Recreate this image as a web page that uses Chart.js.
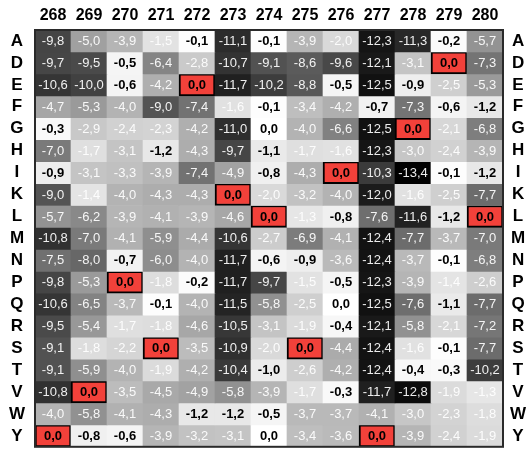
<!DOCTYPE html>
<html>
<head>
<meta charset="utf-8">
<script src="https://cdn.jsdelivr.net/npm/chart.js@4/dist/chart.umd.min.js"></script>
<style>
  html, body { margin: 0; padding: 0; background: #ffffff; }
  canvas { display: block; }
</style>
</head>
<body>
<canvas id="heat" width="532" height="467"></canvas>
<script>
// Sequence positions (columns) and substituted residues (rows)
const positions = ['268', '269', '270', '271', '272', '273', '274', '275', '276', '277', '278', '279', '280'];
const residues = ['A', 'D', 'E', 'F', 'G', 'H', 'I', 'K', 'L', 'M', 'N', 'P', 'Q', 'R', 'S', 'T', 'V', 'W', 'Y'];
// Native residue at each position (highlighted in red)
const nativeResidue = ['Y', 'V', 'P', 'S', 'E', 'K', 'L', 'S', 'I', 'Y', 'G', 'D', 'L'];

// Score for each residue (row) at each position (column)
const scoreA = [-9.8, -5.0, -3.9, -1.5, -0.1, -11.1, -0.1, -3.9, -2.0, -12.3, -11.3, -0.2, -5.7];
const scoreD = [-9.7, -9.5, -0.5, -6.4, -2.8, -10.7, -9.1, -8.6, -9.6, -12.1, -3.1, 0.0, -7.3];
const scoreE = [-10.6, -10.0, -0.6, -4.2, 0.0, -11.7, -10.2, -8.8, -0.5, -12.5, -0.9, -2.5, -5.3];
const scoreF = [-4.7, -5.3, -4.0, -9.0, -7.4, -1.6, -0.1, -3.4, -4.2, -0.7, -7.3, -0.6, -1.2];
const scoreG = [-0.3, -2.9, -2.4, -2.3, -4.2, -11.0, 0.0, -4.0, -6.6, -12.5, 0.0, -2.1, -6.8];
const scoreH = [-7.0, -1.7, -3.1, -1.2, -4.3, -9.7, -1.1, -1.7, -1.6, -12.3, -3.0, -2.4, -3.9];
const scoreI = [-0.9, -3.1, -3.3, -3.9, -7.4, -4.9, -0.8, -4.3, 0.0, -10.3, -13.4, -0.1, -1.2];
const scoreK = [-9.0, -1.4, -4.0, -4.3, -4.3, 0.0, -2.0, -3.2, -4.0, -12.0, -1.6, -2.5, -7.7];
const scoreL = [-5.7, -6.2, -3.9, -4.1, -3.9, -4.6, 0.0, -1.3, -0.8, -7.6, -11.6, -1.2, 0.0];
const scoreM = [-10.8, -7.0, -4.1, -5.9, -4.4, -10.6, -2.7, -6.9, -4.1, -12.4, -7.7, -3.7, -7.0];
const scoreN = [-7.5, -8.0, -0.7, -6.0, -4.0, -11.7, -0.6, -0.9, -3.6, -12.4, -3.7, -0.1, -6.8];
const scoreP = [-9.8, -5.3, 0.0, -1.8, -0.2, -11.7, -9.7, -1.5, -0.5, -12.3, -3.9, -1.4, -2.6];
const scoreQ = [-10.6, -6.5, -3.7, -0.1, -4.0, -11.5, -5.8, -2.5, 0.0, -12.5, -7.6, -1.1, -7.7];
const scoreR = [-9.5, -5.4, -1.7, -1.8, -4.6, -10.5, -3.1, -1.9, -0.4, -12.1, -5.8, -2.1, -7.2];
const scoreS = [-9.1, -1.8, -2.2, 0.0, -3.5, -10.9, -2.0, 0.0, -4.4, -12.4, -1.6, -0.1, -7.7];
const scoreT = [-9.1, -5.9, -4.0, -1.9, -4.2, -10.4, -1.0, -2.6, -4.2, -12.4, -0.4, -0.3, -10.2];
const scoreV = [-10.8, 0.0, -3.5, -4.5, -4.9, -5.8, -3.9, -1.7, -0.3, -11.7, -12.8, -1.9, -1.3];
const scoreW = [-4.0, -5.8, -4.1, -4.3, -1.2, -1.2, -0.5, -3.7, -3.7, -4.1, -3.0, -2.3, -1.8];
const scoreY = [0.0, -0.8, -0.6, -3.9, -3.2, -3.1, 0.0, -3.4, -3.6, 0.0, -3.9, -2.4, -1.9];

const scoreRows = [scoreA, scoreD, scoreE, scoreF, scoreG, scoreH, scoreI, scoreK, scoreL,
  scoreM, scoreN, scoreP, scoreQ, scoreR, scoreS, scoreT, scoreV, scoreW, scoreY];

const SCORE_MIN = -13.4;
const RED = '#f2413a';

function isNative(r, c) { return nativeResidue[c] === residues[r]; }

function grayFor(v) {
  const t = Math.max(0, Math.min(1, 1 - v / SCORE_MIN));
  const g = Math.round(255 * t);
  return `rgb(${g},${g},${g})`;
}

function fmt(v) {
  const s = Math.abs(v) < 0.05 ? '0.0' : v.toFixed(1);
  return s.replace('.', ',');
}

// One floating-bar dataset per residue row; each bar spans [row, row + 1]
const datasets = residues.map((res, r) => ({
  label: res,
  data: positions.map(() => [r, r + 1]),
  scores: scoreRows[r],
  backgroundColor: positions.map((p, c) => isNative(r, c) ? RED : grayFor(scoreRows[r][c])),
  borderColor: '#000000',
  borderWidth: positions.map((p, c) => isNative(r, c) ? 2 : 0),
  borderSkipped: false,
  barPercentage: 1,
  categoryPercentage: 1,
  grouped: false
}));

const cellText = {
  id: 'cellText',
  afterDatasetsDraw(chart) {
    const ctx = chart.ctx;
    ctx.save();
    ctx.textAlign = 'center';
    ctx.textBaseline = 'middle';
    chart.data.datasets.forEach((ds, r) => {
      const meta = chart.getDatasetMeta(r);
      meta.data.forEach((bar, c) => {
        const v = ds.scores[c];
        const cy = (bar.y + bar.base) / 2;
        const strong = v > -1.25 || isNative(r, c);
        ctx.font = strong ? 'bold 13px "Liberation Sans Narrow", "Arial Narrow", "Liberation Sans", Arial, sans-serif'
                          : '13px "Liberation Sans Narrow", "Arial Narrow", "Liberation Sans", Arial, sans-serif';
        ctx.fillStyle = strong ? '#000000' : 'rgba(255,255,255,0.92)';
        ctx.fillText(fmt(v), bar.x, cy + 0.5);
      });
    });
    ctx.restore();
  },
  afterDraw(chart) {
    const a = chart.chartArea;
    const ctx = chart.ctx;
    ctx.save();
    ctx.strokeStyle = '#2a2a2a';
    ctx.lineWidth = 2;
    ctx.strokeRect(a.left, a.top, a.right - a.left, a.bottom - a.top);
    ctx.restore();
  }
};

function rowAxis(position, width, pad) {
  return {
    type: 'linear',
    position: position,
    min: 0,
    max: residues.length,
    reverse: true,
    grid: { display: false, drawTicks: false },
    border: { display: false },
    afterBuildTicks(axis) {
      axis.ticks = residues.map((r, i) => ({ value: i + 0.5 }));
    },
    afterFit(axis) { axis.width = width; },
    ticks: {
      autoSkip: false,
      crossAlign: 'center',
      padding: pad,
      color: '#000000',
      font: { family: '"Liberation Sans", Arial, sans-serif', size: 17, weight: 'bold' },
      callback: (value) => residues[Math.floor(value)]
    }
  };
}

new Chart(document.getElementById('heat'), {
  type: 'bar',
  data: { labels: positions, datasets: datasets },
  options: {
    responsive: false,
    animation: false,
    devicePixelRatio: 1,
    layout: { padding: { top: 0, bottom: 4, left: 0, right: 0 } },
    plugins: { legend: { display: false }, tooltip: { enabled: false } },
    scales: {
      x: {
        type: 'category',
        position: 'top',
        grid: { display: false, drawTicks: false },
        border: { display: false },
        afterFit(axis) { axis.height = 30; },
        ticks: {
          padding: 5,
          maxRotation: 0,
          color: '#000000',
          font: { family: '"Liberation Sans", Arial, sans-serif', size: 16, weight: 'bold' }
        }
      },
      y: rowAxis('left', 35, 10),
      y2: rowAxis('right', 29, 7)
    }
  },
  plugins: [cellText]
});
</script>
</body>
</html>
